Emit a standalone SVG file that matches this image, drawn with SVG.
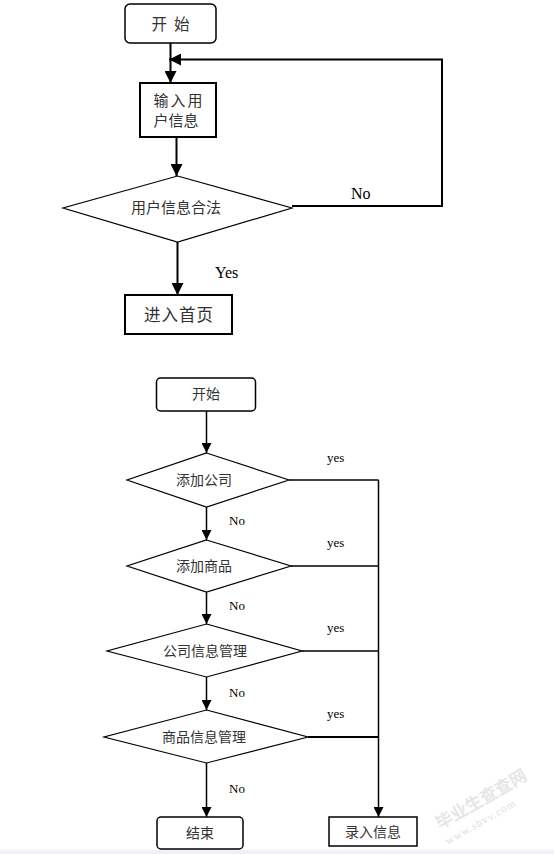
<svg xmlns="http://www.w3.org/2000/svg" width="554" height="854" viewBox="0 0 554 854">
<style>
.bg{fill:#ffffff}
.box{fill:#ffffff;stroke:#000;stroke-width:1.5}
.boxb{fill:#ffffff;stroke:#000;stroke-width:2}
.dia{fill:#ffffff;stroke:#000;stroke-width:1.2}
.ln{fill:none;stroke:#000;stroke-width:1.5}
.lnb{fill:none;stroke:#000;stroke-width:2}
.cn{font-family:"Noto Sans CJK SC","Noto Sans",sans-serif;fill:#333;text-anchor:middle}
.lat{font-family:"Liberation Serif",serif;fill:#000}
.wm{font-family:"Noto Sans CJK SC",sans-serif;fill:#e6e6e6}
</style>
<defs>
<marker id="ah" viewBox="0 0 10 10" refX="10" refY="5" markerWidth="10" markerHeight="10" markerUnits="userSpaceOnUse" orient="auto"><path d="M0,0 L10,5 L0,10 z" fill="#000"/></marker>
<marker id="ahL" viewBox="0 0 10 10" refX="10" refY="5" markerWidth="12" markerHeight="12" markerUnits="userSpaceOnUse" orient="auto"><path d="M0,0 L10,5 L0,10 z" fill="#000"/></marker>
</defs>
<rect class="bg" x="0" y="0" width="554" height="854"/>
<rect x="0" y="850" width="554" height="4" fill="#f2f2f4"/>

<g id="connectors">
<line class="lnb" x1="170.5" y1="43" x2="170.5" y2="83" marker-end="url(#ahL)"/>
<polyline class="lnb" points="292,206 442,206 442,59.5 169,59.5" marker-end="url(#ahL)"/>
<line class="lnb" x1="176.5" y1="137" x2="176.5" y2="176" marker-end="url(#ahL)"/>
<line class="lnb" x1="177.5" y1="242" x2="177.5" y2="295" marker-end="url(#ahL)"/>

<line class="ln" x1="206.5" y1="411" x2="206.5" y2="453" marker-end="url(#ah)"/>
<line class="ln" x1="206.5" y1="507" x2="206.5" y2="540" marker-end="url(#ah)"/>
<line class="ln" x1="206.5" y1="592" x2="206.5" y2="624" marker-end="url(#ah)"/>
<line class="ln" x1="206.5" y1="677" x2="206.5" y2="710" marker-end="url(#ah)"/>
<line class="ln" x1="206.5" y1="763" x2="206.5" y2="817" marker-end="url(#ah)"/>
<line class="ln" x1="289" y1="480" x2="378.5" y2="480"/>
<line class="ln" x1="291" y1="566" x2="378.5" y2="566"/>
<line class="ln" x1="302" y1="651" x2="378.5" y2="651"/>
<line class="lnb" x1="308" y1="737" x2="378.5" y2="737"/>
<line class="ln" x1="378.5" y1="480" x2="378.5" y2="817" marker-end="url(#ah)"/>

<text class="lat" x="351" y="199" font-size="16">No</text>
<text class="lat" x="215" y="278" font-size="16">Yes</text>
<text class="lat" x="327" y="462" font-size="13">yes</text>
<text class="lat" x="327" y="547" font-size="13">yes</text>
<text class="lat" x="327" y="632" font-size="13">yes</text>
<text class="lat" x="327" y="718" font-size="13">yes</text>
<text class="lat" x="229" y="525" font-size="13">No</text>
<text class="lat" x="229" y="610" font-size="13">No</text>
<text class="lat" x="229" y="697" font-size="13">No</text>
<text class="lat" x="229" y="793" font-size="13">No</text>
</g>

<g id="start1">
<rect class="box" x="125" y="4" width="91" height="39" rx="5"/>
<text class="cn" x="170.5" y="29.5" font-size="15.5" xml:space="preserve">开  始</text>
</g>
<g id="input">
<rect class="boxb" x="140" y="83" width="76" height="54"/>
<text class="cn" x="153.5" y="106" font-size="15" letter-spacing="2" style="text-anchor:start">输入用</text>
<text class="cn" x="153.5" y="126" font-size="15" style="text-anchor:start">户信息</text>
</g>
<g id="valid">
<polygon class="dia" points="177.5,176 292,208 177.5,242 63,208"/>
<text class="cn" x="176" y="213" font-size="15">用户信息合法</text>
</g>
<g id="home">
<rect class="boxb" x="125" y="295" width="107" height="39"/>
<text class="cn" x="179" y="320.5" font-size="16.5" letter-spacing="1">进入首页</text>
</g>

<g id="start2">
<rect class="box" x="156.5" y="378" width="99" height="33" rx="4"/>
<text class="cn" x="206" y="399" font-size="14">开始</text>
</g>
<g id="d1">
<polygon class="dia" points="206.5,453 289,480 206.5,507 127,480"/>
<text class="cn" x="204" y="485" font-size="14">添加公司</text>
</g>
<g id="d2">
<polygon class="dia" points="206.5,540 291,566 206.5,592 127,566"/>
<text class="cn" x="204" y="571" font-size="14">添加商品</text>
</g>
<g id="d3">
<polygon class="dia" points="206.5,624 302,651 206.5,677 107,651"/>
<text class="cn" x="205" y="656" font-size="14">公司信息管理</text>
</g>
<g id="d4">
<polygon class="dia" points="206.5,710 308,737 206.5,763 104,737"/>
<text class="cn" x="204" y="742" font-size="14">商品信息管理</text>
</g>
<g id="end">
<rect class="box" x="157" y="817" width="86" height="32" rx="4"/>
<text class="cn" x="200" y="838" font-size="14">结束</text>
</g>
<g id="record">
<rect class="box" x="329" y="817" width="88" height="29"/>
<text class="cn" x="373" y="837" font-size="14">录入信息</text>
</g>

<g id="watermark">
<text class="wm" x="0" y="0" font-size="17" font-weight="bold" transform="translate(440,830) rotate(-30)">毕业生查查网</text>
<text class="wm" x="0" y="0" font-size="11" transform="translate(448,845) rotate(-30)" style="font-family:'Liberation Serif',serif;fill:#e0e0e0" letter-spacing="1">www.sbvv.com</text>
</g>
</svg>
